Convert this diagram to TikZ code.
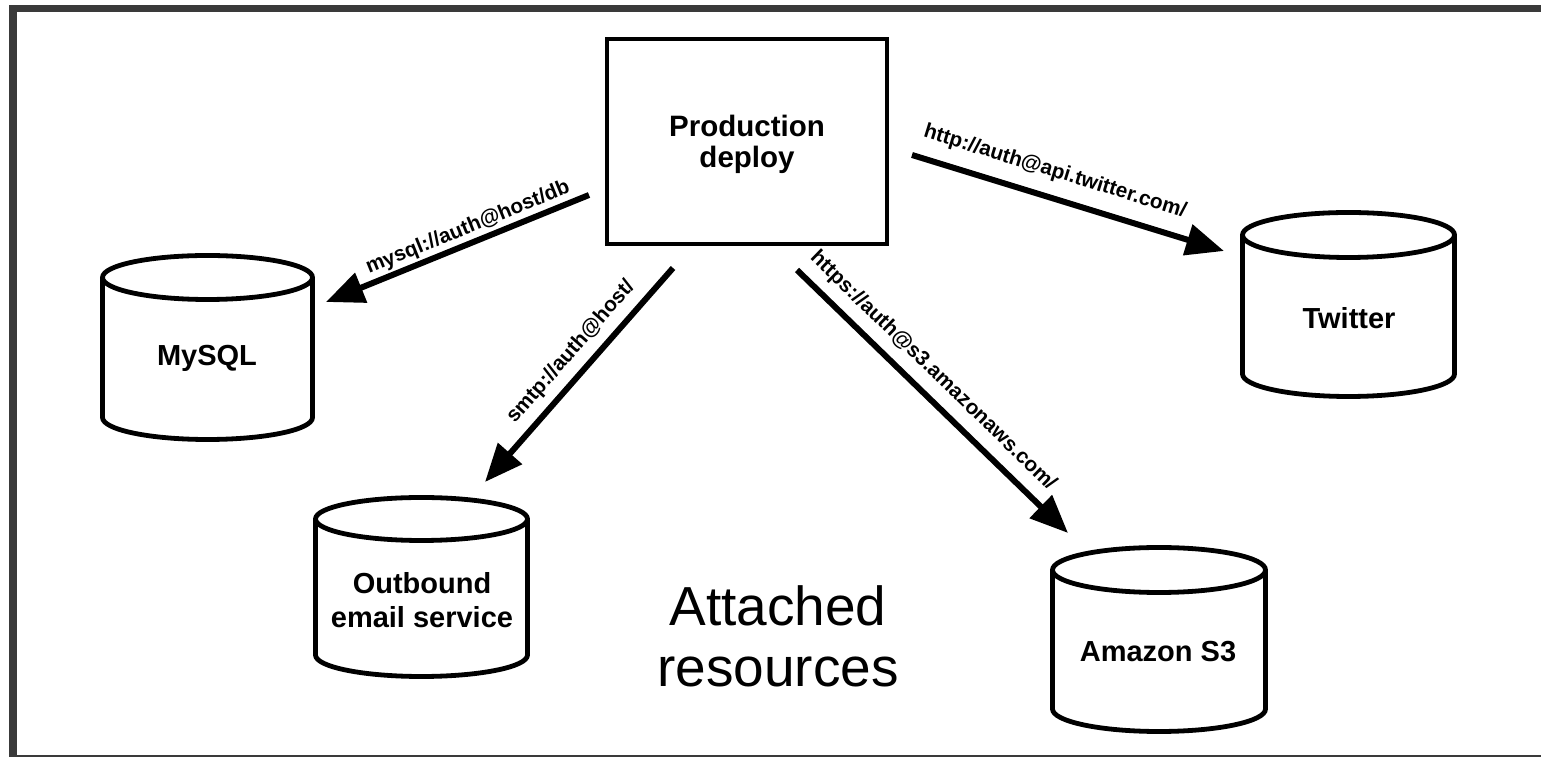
\documentclass[tikz,border=0pt]{standalone}
\usepackage{fontspec}
\setmainfont{Liberation Sans}
\usetikzlibrary{arrows.meta}
\definecolor{framegray}{HTML}{3A3A3A}
\newcommand{\cylbody}[5]{% cx, Y of top ellipse centre, Y of bottom ellipse centre, rx, ry
  \draw[cylline] (#1-#4,#2) -- (#1-#4,#3) arc[start angle=180,end angle=360,x radius=#4,y radius=#5] -- (#1+#4,#2);
  \draw[cylline] (#1,#2) ellipse[x radius=#4,y radius=#5];
}
\tikzset{
  cylline/.style={line width=4.8pt, black},
  boxnode/.style={draw, line width=4.8pt, minimum width=280pt, minimum height=205pt, inner sep=0pt},
  boxtext/.style={font=\fontsize{29.5}{31.5}\selectfont\bfseries, align=center, inner sep=0pt},
  cyltext/.style={font=\fontsize{29}{34}\selectfont\bfseries, align=center, inner sep=0pt},
  lbl/.style={font=\fontsize{20.8}{23}\selectfont\bfseries, inner sep=0pt},
  arr/.style={line width=6pt, -{Triangle[length=38pt,width=31pt]}},
  titletext/.style={font=\fontsize{55}{61}\selectfont, align=center, inner sep=0pt}
}
\begin{document}
\begin{tikzpicture}[x=1pt,y=1pt]
\useasboundingbox (0,0) rectangle (1541,757);
\fill[white] (0,0) rectangle (1541,757);
% frame
\fill[framegray] (9,744.5) rectangle (1541,752);
\fill[framegray] (9,0) rectangle (17,752);
\fill[framegray] (9,0) rectangle (1541,2);
% production box
\node[boxnode] (prod) at (747,615.5) {};
\node[boxtext] (prodtext) at (747,612.5) {Production\\deploy};
% cylinders
\cylbody{207.5}{479.5}{339.5}{105}{22}
\node[cyltext] (mysql) at (207,399) {MySQL};
\cylbody{421.5}{238}{102}{106}{21.5}
\node[cyltext] (email) at (422,157) {Outbound\\email service};
\cylbody{1159}{187}{48}{106.5}{22.5}
\node[cyltext] (s3) at (1158,105) {Amazon S3};
\cylbody{1348.5}{522}{383}{106}{22.5}
\node[cyltext] (twitter) at (1349,439) {Twitter};
% arrow end points
\coordinate (m1) at (589,562);  \coordinate (m2) at (326,455);
\coordinate (t1) at (912,602);  \coordinate (t2) at (1224,506);
\coordinate (e1) at (673,489);  \coordinate (e2) at (485,275);
\coordinate (a1) at (797,487);  \coordinate (a2) at (1068,224);
\draw[arr] (m1) -- (m2);
\draw[arr] (t1) -- (t2);
\draw[arr] (e1) -- (e2);
\draw[arr] (a1) -- (a2);
% labels
\node[lbl, rotate=22.1] (lm) at (468,529) {mysql://auth@host/db};
\node[lbl, rotate=-17.1] (lt) at (1055,585) {http://auth@api.twitter.com/};
\node[lbl, rotate=48.7] (le) at (571,405) {smtp://auth@host/};
\node[lbl, rotate=-44.1] (la) at (933,386) {https://auth@s3.amazonaws.com/};
% title
\node[titletext] (title) at (778,121) {Attached\\resources};
\end{tikzpicture}
\end{document}
